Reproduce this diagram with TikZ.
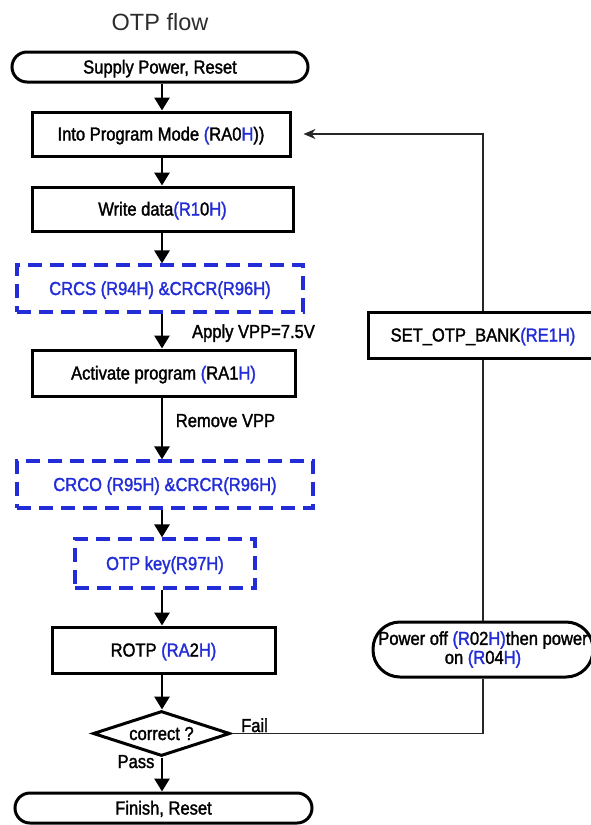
\documentclass[tikz,border=0pt]{standalone}
\usepackage{fontspec}
\setmainfont{Liberation Sans}
\newfontfamily\condfont[FakeStretch=0.88,FakeBold=1.6]{Liberation Sans}
\usetikzlibrary{shapes.geometric,arrows.meta}
\definecolor{otpblue}{RGB}{35,45,215}
\definecolor{titlegray}{RGB}{45,45,45}
\newcommand{\bl}[1]{\textcolor{otpblue}{#1}}
\begin{document}
\begin{tikzpicture}[x=1pt,y=-1pt,
  base/.style={font=\condfont\fontsize{18.8}{19}\selectfont, text height=13pt, text depth=0pt, inner sep=0pt},
  box/.style={base, draw=black, line width=3pt, rectangle},
  term/.style={box, rounded corners=15pt},
  dbox/.style={base, draw=otpblue, line width=3.2pt, dash pattern=on 14pt off 8pt, text=otpblue},
  lbl/.style={font=\condfont\fontsize{18.8}{19}\selectfont, inner sep=0pt, anchor=base},
  arr/.style={line width=2.8pt, -{Triangle[length=13pt,width=15pt]}},
  link/.style={line width=1.5pt, draw=black!85}
]
\fill[white] (0,0) rectangle (590,825);
\useasboundingbox (0,0) rectangle (590,825);

\node[font=\fontsize{23.5}{26}\selectfont, text=titlegray, anchor=base, inner sep=0pt] (title) at (160,30) {OTP flow};

\node[term, minimum width=296pt, minimum height=30pt] (supply) at (160,67) {Supply Power, Reset};
\node[box, minimum width=258pt, minimum height=44pt] (prog) at (161,134) {Into Program Mode \bl{(}RA0\bl{H}))};
\node[box, minimum width=261pt, minimum height=44pt] (write) at (162.5,209) {Write data\bl{(R1}0\bl{H)}};
\node[dbox, minimum width=286pt, minimum height=47pt] (crcs) at (160,288.5) {CRCS (R94H) \&CRCR(R96H)};
\node[box, minimum width=263pt, minimum height=46pt] (act) at (163.5,373) {Activate program \bl{(}RA1\bl{H)}};
\node[dbox, minimum width=296pt, minimum height=47pt] (crco) at (165,484.5) {CRCO (R95H) \&CRCR(R96H)};
\node[dbox, minimum width=180pt, minimum height=49pt] (key) at (165,563.5) {OTP key(R97H)};
\node[box, minimum width=223pt, minimum height=46pt] (rotp) at (163.5,650) {ROTP \bl{(RA}2\bl{H)}};
\node[base, draw=black, line width=3pt, diamond, aspect=3, minimum width=137pt, minimum height=45pt] (dia) at (161.5,733.5) {correct ?};
\node[term, minimum width=297pt, minimum height=30pt] (finish) at (163.5,808) {Finish, Reset};

\node[box, minimum width=230pt, minimum height=46pt] (setbank) at (483,335) {SET\_OTP\_BANK\bl{(RE1H)}};
\node[box, rounded corners=27pt, minimum width=220pt, minimum height=55pt, align=center, text height=, text depth=] (power) at (483,649.5) {Power off \bl{(R}02\bl{H)}then power\\on \bl{(R}04\bl{H)}};

\node[lbl] (vpp) at (253.5,338) {Apply VPP=7.5V};
\node[lbl] (rvpp) at (225.5,427) {Remove VPP};
\node[lbl] (fail) at (254.5,732) {Fail};
\node[lbl] (pass) at (136,768) {Pass};

\coordinate (spine) at (162,0);
\draw[arr] (supply.south -| spine) -- (prog.north -| spine);
\draw[arr] (prog.south -| spine) -- (write.north -| spine);
\draw[arr] (write.south -| spine) -- (crcs.north -| spine);
\draw[arr] (crcs.south -| spine) -- (act.north -| spine);
\draw[arr] (act.south -| spine) -- (crco.north -| spine);
\draw[arr] (crco.south -| spine) -- (key.north -| spine);
\draw[arr] (key.south -| spine) -- (rotp.north -| spine);
\draw[arr] (rotp.south -| spine) -- (dia.north -| spine);
\draw[arr] (dia.south -| spine) -- (finish.north -| spine);

\coordinate (ret) at ([xshift=12pt]prog.east);
\draw[link] (dia.east) -- (dia.east -| power.south) -- (power.south);
\draw[link] (power.north) -- (setbank.south);
\draw[link, -{Stealth[length=12pt,width=10pt]}] (setbank.north) |- (ret);
\end{tikzpicture}
\end{document}
